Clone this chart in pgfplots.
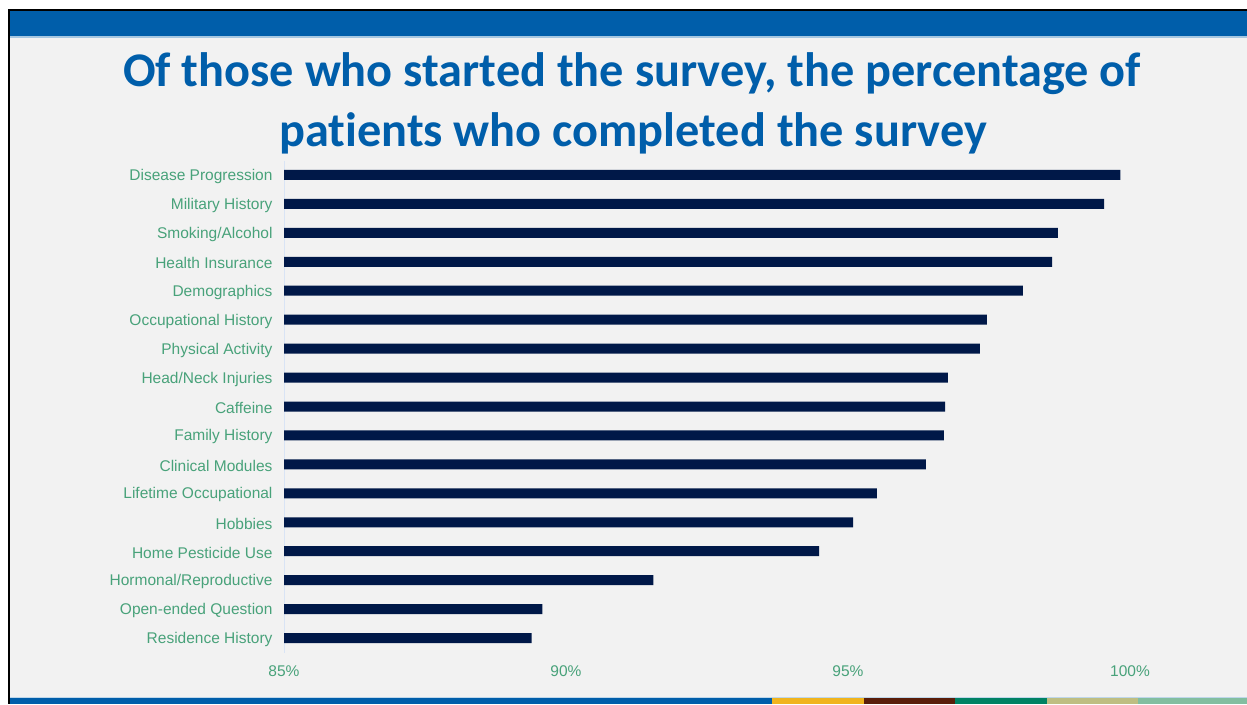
\documentclass[border=0pt]{standalone}
\usepackage{pgfplots}
\pgfplotsset{compat=1.18}
\usepackage{fontspec}
\setmainfont{Liberation Sans}
\newfontfamily\titlefont[Ligatures=NoCommon]{Carlito}
\definecolor{slidebg}{RGB}{242,242,242}
\definecolor{topblue}{RGB}{0,94,170}
\definecolor{barnavy}{RGB}{0,24,72}
\definecolor{lblgreen}{RGB}{72,162,122}
\definecolor{axisblue}{RGB}{217,228,245}
\definecolor{stripyellow}{RGB}{240,180,30}
\definecolor{stripbrown}{RGB}{90,30,10}
\definecolor{stripgreen}{RGB}{0,130,100}
\definecolor{stripkhaki}{RGB}{190,190,130}
\definecolor{stripsage}{RGB}{130,190,160}
\pgfplotstableread{
idx value
0 99.83
1 99.54
2 98.72
3 98.62
4 98.10
5 97.46
6 97.34
7 96.77
8 96.72
9 96.70
10 96.38
11 95.51
12 95.09
13 94.49
14 91.55
15 89.58
16 89.39
}\datatable
\begin{document}
\begin{tikzpicture}[x=1pt,y=1pt]
% page background
\fill[white] (0,0) rectangle (1247,-704);
\fill[slidebg] (9,-10) rectangle (1247,-704);
% top bar
\fill[black] (8,-9) rectangle (1247,-11);
\fill[topblue] (9,-11) rectangle (1247,-36);
\fill[topblue!35] (9,-36) rectangle (1247,-37.5);
% left border
\fill[black] (8,-9) rectangle (10,-704);
% bottom strip
\fill[topblue!25] (10,-696.5) rectangle (1247,-698);
\fill[topblue] (10,-698) rectangle (772,-704);
\fill[stripyellow] (772,-698) rectangle (864,-704);
\fill[stripbrown] (864,-698) rectangle (955,-704);
\fill[stripgreen] (955,-698) rectangle (1047,-704);
\fill[stripkhaki] (1047,-698) rectangle (1138,-704);
\fill[stripsage] (1138,-698) rectangle (1247,-704);
% title
\node[anchor=base, text=topblue, font=\titlefont\bfseries\fontsize{48.3}{56}\selectfont] at (632,-86) {Of those who started the survey, the percentage of};
\node[anchor=base, text=topblue, font=\titlefont\bfseries\fontsize{48.3}{56}\selectfont] at (633,-146) {patients who completed the survey};
\begin{axis}[
  at={(284pt,-652.5pt)}, anchor=south west,
  scale only axis, width=846pt, height=492pt,
  xbar, bar width=10pt,
  xmin=85, xmax=100, ymin=-0.5, ymax=16.5,
  y dir=reverse,
  axis line style={draw=none},
  major tick length=0pt,
  xtick={85,90,95,100},
  xticklabel={\pgfmathprintnumber{\tick}\%},
  ytick={0,...,16},
  yticklabels={Disease Progression,Military History,Smoking/Alcohol,Health Insurance,Demographics,Occupational History,Physical Activity,Head/Neck Injuries,Caffeine,Family History,Clinical Modules,Lifetime Occupational,Hobbies,Home Pesticide Use,Hormonal/Reproductive,Open-ended Question,Residence History},
  ticklabel style={text=lblgreen, font=\fontsize{15.5}{18}\selectfont},
  /pgf/number format/assume math mode=true,
  yticklabel style={xshift=-8pt, yshift=-1.5pt},
  xticklabel style={yshift=-10pt},
]
\draw[axisblue, line width=1pt] (axis cs:85,-0.5) -- (axis cs:85,16.5);
\addplot[fill=barnavy, draw=none] table[x=value, y=idx] {\datatable};
\end{axis}
\end{tikzpicture}
\end{document}
